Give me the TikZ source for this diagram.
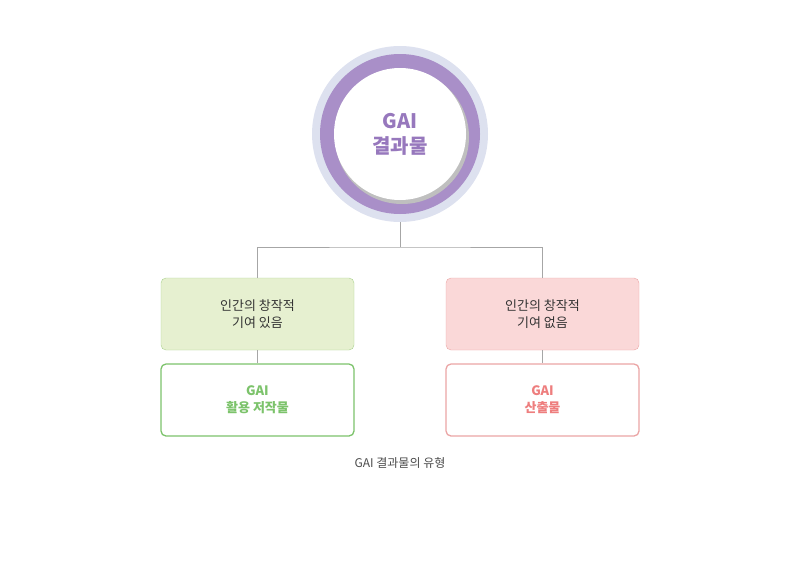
\documentclass[tikz,border=0pt]{standalone}
\usepackage{fontspec}
\setmainfont{Noto Sans CJK KR}
\usetikzlibrary{positioning}
\definecolor{ringpale}{HTML}{DDE1EF}
\definecolor{ringpurple}{HTML}{A98FC8}
\definecolor{textpurple}{HTML}{9778BD}
\definecolor{greenfill}{HTML}{E6F0D0}
\definecolor{greenline}{HTML}{A9D18E}
\definecolor{greendark}{HTML}{7CC36B}
\definecolor{pinkfill}{HTML}{FAD8D8}
\definecolor{pinkline}{HTML}{EBA5A5}
\definecolor{pinkdark}{HTML}{EE7E7E}
\tikzset{
  topbox/.style={rectangle, rounded corners=5pt, minimum width=193pt, minimum height=72pt,
    align=center, font=\fontsize{13}{17}\selectfont, text=black!80},
  lowbox/.style={rectangle, rounded corners=5pt, minimum width=193pt, minimum height=72pt,
    align=center, fill=white, line width=1.3pt, font=\bfseries\fontsize{13}{17}\selectfont},
  link/.style={draw=gray!70, line width=0.8pt}
}
\begin{document}
\begin{tikzpicture}[x=1pt,y=-1pt]
    \useasboundingbox (0,0) rectangle (786,562);
    % central circle
    \fill[ringpale] (400,134) circle (88);
    \fill[ringpurple] (400,134) circle (80);
    \fill[black!25] (402,137) circle (67);
    \node[circle, fill=white, minimum size=132pt, align=center, text=textpurple,
      font=\bfseries\fontsize{20}{25}\selectfont] (gai) at (400,134) {GAI\\결과물};

    \node[topbox, fill=greenfill, draw=greenline] (human) at (257.5,314) {인간의 창작적\\기여 있음};
    \node[lowbox, draw=greendark, text=greendark] (work) at (257.5,400) {GAI\\활용 저작물};
    \node[topbox, fill=pinkfill, draw=pinkline] (nohuman) at (542.5,314) {인간의 창작적\\기여 없음};
    \node[lowbox, draw=pinkline, text=pinkdark] (output) at (542.5,400) {GAI\\산출물};

    \coordinate (split) at (400,247);
    \draw[link] (400,222) -- (split);
    \draw[link] (human.north) |- (split) -| (nohuman.north);
    \draw[link] (human) -- (work);
    \draw[link] (nohuman) -- (output);

    \node[text=black!70, font=\fontsize{12}{14}\selectfont] (caption) at (400,463) {GAI 결과물의 유형};
\end{tikzpicture}
\end{document}
